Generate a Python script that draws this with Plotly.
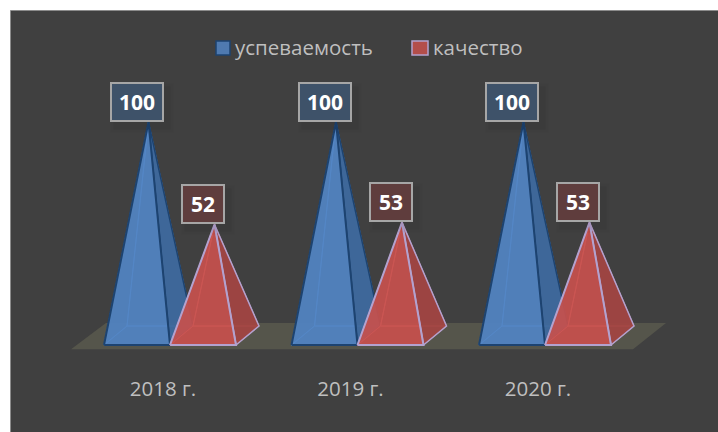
import plotly.graph_objects as go

categories = ["2018 г.", "2019 г.", "2020 г."]
series_names = ["успеваемость", "качество"]
uspevaemost = [100, 100, 100]
kachestvo = [52, 53, 53]

W, H = 718, 432
PX_X = 187.5          # pixels per category
PX_Y = 2.135          # pixels per value unit
X0_PX = 163           # pixel of first category
Y0_PX = 335.5         # pixel of value 0
BOTTOM = 58
FONT = "Open Sans, Noto Sans, sans-serif"

xr = [-X0_PX / PX_X, (W - X0_PX) / PX_X]
yr = [-(H - BOTTOM - Y0_PX) / PX_Y, Y0_PX / PX_Y]

bw = 66 / PX_X
ddx = 23 / PX_X
ddy = 9.5 / PX_Y
offsets = [-59 / PX_X, 7 / PX_X]   # front-left corner relative to category centre

styles = [
    dict(line="#1D4370", front="rgba(82,132,194,0.86)", side="rgba(62,104,155,0.92)",
         back="rgba(79,129,189,0.5)", base="rgba(79,129,189,0.55)",
         box="#3E5269", backline="rgba(95,150,215,0.9)"),
    dict(line="#B3A2CF", front="rgba(198,80,77,0.86)", side="rgba(158,68,65,0.9)",
         back="rgba(192,80,77,0.5)", base="rgba(192,80,77,0.55)",
         box="#5F3D3D", backline="rgba(225,115,115,0.95)"),
]

fig = go.Figure()


def poly(xs, ys, fill, line, width):
    fig.add_trace(go.Scatter(x=xs, y=ys, mode="lines", fill="toself", fillcolor=fill,
                             line=dict(color=line, width=width), hoverinfo="skip",
                             showlegend=False))


# floor
poly([-91 / PX_X - 0.005, 470 / PX_X, 503 / PX_X, -57 / PX_X],
     [-6.4, -6.4, 5.9, 5.9], "#55554B", "rgba(0,0,0,0)", 0)

for s, vals in enumerate([uspevaemost, kachestvo]):
    st = styles[s]
    faces = dict(base=([], []), back=([], []), side=([], []), front=([], []))
    for i, v in enumerate(vals):
        fl = i + offsets[s]
        fr = fl + bw
        tx = fl + bw / 2 + ddx / 2
        faces["base"][0].extend([fl, fr, fr + ddx, fl + ddx, fl, None])
        faces["base"][1].extend([-ddy, -ddy, ddy, ddy, -ddy, None])
        faces["back"][0].extend([fl, fl + ddx, tx, fl, None, fl + ddx, fr + ddx, tx, fl + ddx, None])
        faces["back"][1].extend([-ddy, ddy, v, -ddy, None, ddy, ddy, v, ddy, None])
        faces["side"][0].extend([fr, fr + ddx, tx, fr, None])
        faces["side"][1].extend([-ddy, ddy, v, -ddy, None])
        faces["front"][0].extend([fl, fr, tx, fl, None])
        faces["front"][1].extend([-ddy, -ddy, v, -ddy, None])
    poly(*faces["base"], st["base"], st["backline"], 1)
    poly(*faces["back"], st["back"], st["backline"], 1)
    poly(*faces["side"], st["side"], st["line"], 1.5)
    poly(*faces["front"], st["front"], st["line"], 2)

# soft shadows first, then the boxed value labels
for s, vals in enumerate([uspevaemost, kachestvo]):
    for i, v in enumerate(vals):
        bx = i + offsets[s] + bw / 2
        bwid = 48 if v >= 100 else 38
        for grow, alpha in ((12, 0.03), (6, 0.04)):
            fig.add_annotation(x=bx, y=v, text=" ", showarrow=False, yanchor="bottom", xanchor="center",
                               xshift=5, yshift=-5 - grow / 2, bgcolor=f"rgba(0,0,0,{alpha})",
                               width=bwid + grow, height=34 + grow, font=dict(size=10))
for s, vals in enumerate([uspevaemost, kachestvo]):
    st = styles[s]
    for i, v in enumerate(vals):
        fig.add_annotation(x=i + offsets[s] + bw / 2, y=v, text=f"<b>{v}</b>", showarrow=False,
                           yanchor="bottom", xanchor="center",
                           font=dict(family=FONT, size=21, color="white"),
                           bgcolor=st["box"], bordercolor="#A6A6A6", borderwidth=2,
                           width=48 if v >= 100 else 38, height=34)

# legend
legend_items = [(216, 230, 232.5, styles[0]), (412, 428, 431, styles[1])]
for name, (x0, x1, tx, st) in zip(series_names, legend_items):
    fig.add_shape(type="rect", xref="paper", yref="paper", x0=x0 / W, x1=x1 / W,
                  y0=1 - 55 / (H - BOTTOM), y1=1 - 41 / (H - BOTTOM),
                  fillcolor=st["front"], line=dict(color=st["line"], width=1.5))
    fig.add_annotation(xref="paper", yref="paper", x=tx / W, y=1 - 47 / (H - BOTTOM), text=name,
                       showarrow=False, xanchor="left", yanchor="middle",
                       font=dict(family=FONT, size=20.5, color="#BFBFBF"))

# chart background
fig.add_shape(type="rect", xref="paper", yref="paper", layer="below",
              x0=10.5 / W, x1=1.01, y0=-BOTTOM / (H - BOTTOM) - 0.01, y1=1 - 10.5 / (H - BOTTOM),
              fillcolor="#404040", line=dict(color="#8C8C8C", width=1))

fig.update_layout(
    width=W, height=H, margin=dict(l=0, r=0, t=0, b=BOTTOM),
    paper_bgcolor="white", plot_bgcolor="rgba(0,0,0,0)", showlegend=False,
    xaxis=dict(range=xr, tickvals=list(range(len(categories))), ticktext=categories,
               showgrid=False, zeroline=False, showline=False, ticks="",
               tickfont=dict(family=FONT, size=20.5, color="#BFBFBF"),
               fixedrange=True),
    yaxis=dict(range=yr, showgrid=False, zeroline=False, showticklabels=False, fixedrange=True),
)

fig.write_html("out.html", config=dict(displayModeBar=False),
               post_script="document.body.style.margin='0';document.body.style.overflow='hidden';")
